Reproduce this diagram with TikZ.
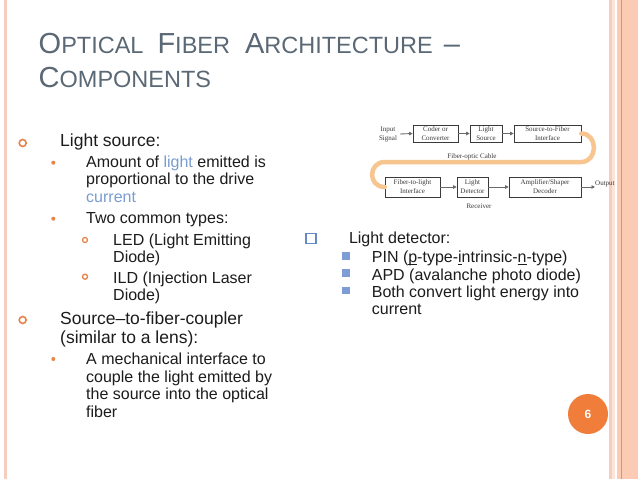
\documentclass[tikz,border=0pt]{standalone}
\usepackage{fontspec}
\setmainfont{Liberation Sans}
\newfontfamily\diagfont{Liberation Serif}
\usetikzlibrary{arrows.meta,calc}
\definecolor{titlegray}{HTML}{5B6875}
\definecolor{bodyblack}{HTML}{1C1C1C}
\definecolor{lightblue}{HTML}{7A9CD0}
\definecolor{bulorange}{HTML}{E8834A}
\definecolor{bulblue}{HTML}{7E9DD6}
\definecolor{bulblueline}{HTML}{6688C4}
\definecolor{fibercol}{HTML}{F7C690}
\definecolor{arrgray}{HTML}{6A6A6A}
\definecolor{boxgray}{HTML}{3A3A3A}
\definecolor{pagecirc}{HTML}{F07E3A}
\definecolor{bandlight}{HTML}{F6CDBE}
\definecolor{bandfaint}{HTML}{FCE4D8}
\definecolor{bandpeach}{HTML}{FBCBB3}
\definecolor{banddark}{HTML}{E0946E}
\newcommand\tbig[1]{{\fontsize{29}{32}\selectfont #1}}
\newcommand\ulet[1]{\underline{\smash{#1}}}
\begin{document}
\begin{tikzpicture}[x=1pt,y=-1pt,
  every node/.style={inner sep=0pt},
  title/.style={anchor=base west, text=titlegray, font=\fontsize{23.5}{26}\selectfont},
  lone/.style={anchor=base west, text=bodyblack, font=\fontsize{17.5}{20}\selectfont},
  ltwo/.style={anchor=base west, text=bodyblack, font=\fontsize{16}{18}\selectfont},
  rtxt/.style={anchor=base west, text=bodyblack, font=\fontsize{16}{18}\selectfont},
  ringA/.style={circle, draw=bulorange, line width=1.6pt, minimum size=7pt},
  ringC/.style={circle, draw=bulorange, line width=1.3pt, minimum size=5pt},
  dotB/.style={circle, fill=bulorange, minimum size=4pt},
  sqA/.style={draw=bulblueline, line width=1.5pt, minimum size=10pt},
  sqB/.style={fill=bulblue, minimum size=7.5pt},
  dbox/.style={draw=boxgray, line width=0.6pt, align=center, font=\diagfont\fontsize{7}{9}\selectfont, text=boxgray},
  dlbl/.style={align=center, font=\diagfont\fontsize{7}{9}\selectfont, text=boxgray},
  arr/.style={draw=arrgray, line width=0.9pt, -{Triangle[length=3.5pt,width=3.5pt]}},
  fiber/.style={draw=fibercol, line width=4.5pt, line cap=round}
]
\useasboundingbox (0,0) rectangle (638,479);
\fill[white] (0,0) rectangle (638,479);
% borders
\fill[bandlight] (4,0) rectangle (6.8,479);
\fill[bandlight] (609,0) rectangle (611.5,479);
\fill[bandfaint] (612,0) rectangle (615,479);
\fill[bandpeach] (617,0) rectangle (621,479);
\fill[banddark] (621,0) rectangle (622.4,479);
\fill[bandpeach] (622.4,0) rectangle (638,479);
% title
\node[title] (t1) at (38.5,53.3) {\tbig{O}PTICAL\hspace{14pt}\tbig{F}IBER\hspace{15pt}\tbig{A}RCHITECTURE\hspace{11pt}\tbig{–}};
\node[title] (t2) at (38.5,87.5) {\tbig{C}OMPONENTS};
% left column
\node[ringA] (b1) at (22.7,143) {};
\node[lone] (l1) at (60,146.7) {Light source:};
\node[dotB] (b2) at (53.3,162.7) {};
\node[ltwo] (l2) at (86,167.3) {Amount of \textcolor{lightblue}{light} emitted is};
\node[ltwo] (l3) at (86,184.8) {proportional to the drive};
\node[ltwo] (l4) at (86,202.3) {\textcolor{lightblue}{current}};
\node[dotB] (b3) at (53.3,218.7) {};
\node[ltwo] (l5) at (86,223.3) {Two common types:};
\node[ringC] (b4) at (85,240) {};
\node[ltwo] (l6) at (113,245) {LED (Light Emitting};
\node[ltwo] (l7) at (113,262.3) {Diode)};
\node[ringC] (b5) at (85,276.7) {};
\node[ltwo] (l8) at (113,283.3) {ILD (Injection Laser};
\node[ltwo] (l9) at (113,300.6) {Diode)};
\node[ringA] (b6) at (22.7,320) {};
\node[lone] (l10) at (60,324.3) {Source–to-fiber-coupler};
\node[lone] (l11) at (60,343.3) {(similar to a lens):};
\node[dotB] (b7) at (53.3,359) {};
\node[ltwo] (l12) at (86,364.5) {A mechanical interface to};
\node[ltwo] (l13) at (86,382) {couple the light emitted by};
\node[ltwo] (l14) at (86,399.5) {the source into the optical};
\node[ltwo] (l15) at (86,417) {fiber};
% right column
\node[sqA] (r0) at (310.8,238.3) {};
\node[rtxt] (r1) at (348.8,243.5) {Light detector:};
\node[sqB] (s1) at (345.8,256) {};
\node[rtxt] (r2) at (371.7,262.8) {PIN (\ulet{p}-type-\ulet{i}ntrinsic-\ulet{n}-type)};
\node[sqB] (s2) at (345.8,273.2) {};
\node[rtxt] (r3) at (371.7,280) {APD (avalanche photo diode)};
\node[sqB] (s3) at (345.8,290.4) {};
\node[rtxt] (r4) at (371.7,297.2) {Both convert light energy into};
\node[rtxt] (r5) at (371.7,314.4) {current};
% diagram
\node[dlbl] (inp) at (388,134) {Input\\Signal};
\node[dbox, minimum width=45pt, minimum height=17pt] (d1) at (435.5,133.5) {Coder or\\Converter};
\node[dbox, minimum width=32pt, minimum height=17pt] (d2) at (486,133.5) {Light\\Source};
\node[dbox, minimum width=67pt, minimum height=17pt] (d3) at (547.5,133.5) {Source-to-Fiber\\Interface};
\node[dbox, minimum width=55pt, minimum height=20pt] (d4) at (412.5,187) {Fiber-to-light\\Interface};
\node[dbox, minimum width=31pt, minimum height=20pt] (d5) at (472.5,187) {Light\\Detector};
\node[dbox, minimum width=72pt, minimum height=20pt] (d6) at (545,187) {Amplifier/Shaper\\Decoder};
\node[dlbl, anchor=west] (out) at (595,183.5) {Output};
\node[dlbl] (cab) at (472,156.5) {Fiber-optic Cable};
\node[dlbl] (rec) at (479,206) {Receiver};
\draw[fiber] (d3.east) .. controls ($(d3.east)+(17,0)$) and (598,162) .. (581,162) -- (385,162) .. controls (368,162) and ($(d4.west)+(-17,0)$) .. (d4.west);
\draw[arr] ($(inp.east)+(3,0)$) -- (d1.west);
\draw[arr] (d1) -- (d2);
\draw[arr] (d2) -- (d3);
\draw[arr] (d4) -- (d5);
\draw[arr] (d5) -- (d6);
\draw[arr] (d6.east) -- (d6.east -| out.west);
% page number
\node[circle, fill=pagecirc, minimum size=40pt, text=white, font=\bfseries\fontsize{12}{14}\selectfont] (pg) at (588,414) {6};
\end{tikzpicture}
\end{document}
